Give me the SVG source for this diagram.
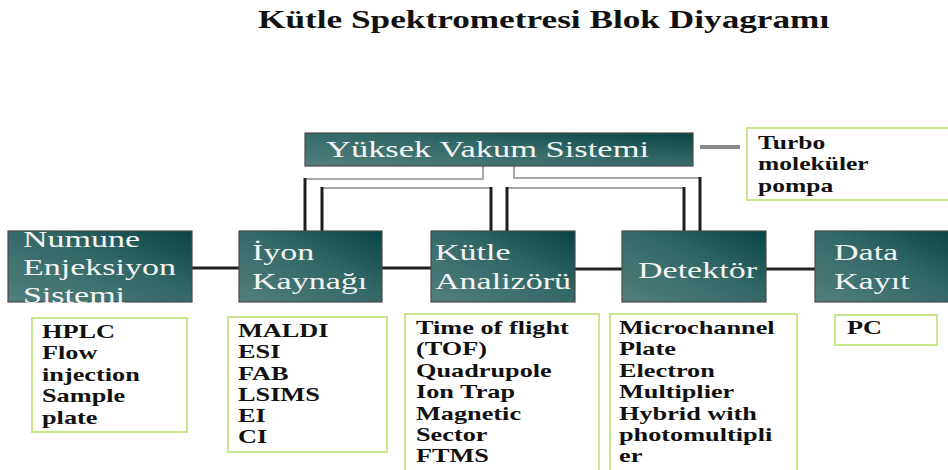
<svg xmlns="http://www.w3.org/2000/svg" width="948" height="470" viewBox="0 0 948 470">
  <defs>
    <linearGradient id="teal" x1="0" y1="1" x2="1" y2="0">
      <stop offset="0" stop-color="#527f7d"/>
      <stop offset="0.55" stop-color="#326866"/>
      <stop offset="1" stop-color="#0a4343"/>
    </linearGradient>
    <style>
      .block { fill: url(#teal); stroke: #4a4a4a; stroke-width: 1.2; }
      .list { fill: #ffffff; stroke: #c8e68c; stroke-width: 2; }
      .lbl { font-family: "Liberation Serif", "Times New Roman", serif; font-size: 23px; fill: #f4f4f4; }
      .item { font-family: "Liberation Serif", "Times New Roman", serif; font-size: 18px; font-weight: bold; fill: #111; }
      .title { font-family: "Liberation Serif", "Times New Roman", serif; font-size: 25px; font-weight: bold; fill: #111; }
      .link { stroke: #222; stroke-width: 3; fill: none; }
      .feed { stroke: #a8a8a8; stroke-width: 2; fill: none; }
      .drop { stroke: #1e1e1e; stroke-width: 3; fill: none; }
      .pump { stroke: #8a8a8a; stroke-width: 4; fill: none; }
    </style>
  </defs>
  <rect width="948" height="470" fill="#ffffff"/>

  <!-- title -->
  <text class="title" transform="translate(258 28) scale(1.41 1)">Kütle Spektrometresi Blok Diyagramı</text>

  <!-- connectors -->
  <g id="connectors">
    <line class="link" x1="192" y1="268" x2="239" y2="268"/>
    <line class="link" x1="382" y1="268" x2="431" y2="268"/>
    <line class="link" x1="575" y1="269" x2="622" y2="269"/>
    <line class="link" x1="766" y1="269" x2="815" y2="269"/>
    <!-- vacuum lines down to the ion source / analyser / detector -->
    <polyline class="feed" points="483,166 483,179 305,179"/>
    <line class="drop" x1="305" y1="178" x2="305" y2="231"/>
    <line class="feed" x1="322" y1="188" x2="491" y2="188"/>
    <line class="drop" x1="322" y1="187" x2="322" y2="231"/>
    <line class="drop" x1="491" y1="187" x2="491" y2="231"/>
    <polyline class="feed" points="514,166 514,178 700,178"/>
    <line class="drop" x1="700" y1="177" x2="700" y2="231"/>
    <line class="feed" x1="507" y1="188" x2="684" y2="188"/>
    <line class="drop" x1="507" y1="187" x2="507" y2="231"/>
    <line class="drop" x1="684" y1="187" x2="684" y2="231"/>
    <line class="pump" x1="700" y1="147" x2="740" y2="147"/>
  </g>

  <!-- main blocks -->
  <g id="vakum">
    <rect class="block" x="305" y="133" width="388" height="33"/>
    <text class="lbl" transform="translate(326 157) scale(1.5 1)">Yüksek Vakum Sistemi</text>
  </g>
  <g id="numune">
    <rect class="block" x="8" y="231" width="184" height="71"/>
    <text class="lbl" transform="translate(23 247) scale(1.48 1)"><tspan x="0" y="0">Numune</tspan><tspan x="0" y="28">Enjeksiyon</tspan><tspan x="0" y="56">Sistemi</tspan></text>
  </g>
  <g id="iyon">
    <rect class="block" x="239" y="231" width="143" height="71"/>
    <text class="lbl" transform="translate(252 260) scale(1.48 1)"><tspan x="0" y="0">İyon</tspan><tspan x="0" y="29">Kaynağı</tspan></text>
  </g>
  <g id="analizor">
    <rect class="block" x="431" y="231" width="144" height="71"/>
    <text class="lbl" transform="translate(435 260) scale(1.48 1)"><tspan x="0" y="0">Kütle</tspan><tspan x="0" y="29">Analizörü</tspan></text>
  </g>
  <g id="detektor">
    <rect class="block" x="622" y="231" width="144" height="71"/>
    <text class="lbl" transform="translate(638 278) scale(1.48 1)">Detektör</text>
  </g>
  <g id="data">
    <rect class="block" x="815" y="231" width="140" height="71"/>
    <text class="lbl" transform="translate(834 260) scale(1.48 1)"><tspan x="0" y="0">Data</tspan><tspan x="0" y="29">Kayıt</tspan></text>
  </g>

  <!-- option lists -->
  <g id="turbo">
    <rect class="list" x="747" y="128" width="212" height="72"/>
    <text class="item" transform="translate(758 149) scale(1.42 1)"><tspan x="0" y="0">Turbo</tspan><tspan x="0" y="21.5">moleküler</tspan><tspan x="0" y="43">pompa</tspan></text>
  </g>
  <g id="enjeksiyon-list">
    <rect class="list" x="32" y="318" width="155" height="114"/>
    <text class="item" transform="translate(42 338) scale(1.46 1)"><tspan x="0" y="0">HPLC</tspan><tspan x="0" y="21.4">Flow</tspan><tspan x="0" y="42.8">injection</tspan><tspan x="0" y="64.2">Sample</tspan><tspan x="0" y="85.6">plate</tspan></text>
  </g>
  <g id="iyon-list">
    <rect class="list" x="228" y="317" width="159" height="135"/>
    <text class="item" transform="translate(238 337) scale(1.46 1)"><tspan x="0" y="0">MALDI</tspan><tspan x="0" y="21.3">ESI</tspan><tspan x="0" y="42.6">FAB</tspan><tspan x="0" y="63.9">LSIMS</tspan><tspan x="0" y="85.2">EI</tspan><tspan x="0" y="106.5">CI</tspan></text>
  </g>
  <g id="analizor-list">
    <rect class="list" x="405" y="314" width="194" height="170"/>
    <text class="item" transform="translate(416 334) scale(1.46 1)"><tspan x="0" y="0">Time of flight</tspan><tspan x="0" y="21.4">(TOF)</tspan><tspan x="0" y="42.8">Quadrupole</tspan><tspan x="0" y="64.2">Ion Trap</tspan><tspan x="0" y="85.6">Magnetic</tspan><tspan x="0" y="107">Sector</tspan><tspan x="0" y="128.4">FTMS</tspan></text>
  </g>
  <g id="detektor-list">
    <rect class="list" x="610" y="314" width="187" height="170"/>
    <text class="item" transform="translate(619 334) scale(1.46 1)"><tspan x="0" y="0">Microchannel</tspan><tspan x="0" y="21.4">Plate</tspan><tspan x="0" y="42.8">Electron</tspan><tspan x="0" y="64.2">Multiplier</tspan><tspan x="0" y="85.6">Hybrid with</tspan><tspan x="0" y="107">photomultipli</tspan><tspan x="0" y="128.4">er</tspan></text>
  </g>
  <g id="data-list">
    <rect class="list" x="835" y="315" width="102" height="30"/>
    <text class="item" transform="translate(847 334) scale(1.46 1)">PC</text>
  </g>
</svg>
